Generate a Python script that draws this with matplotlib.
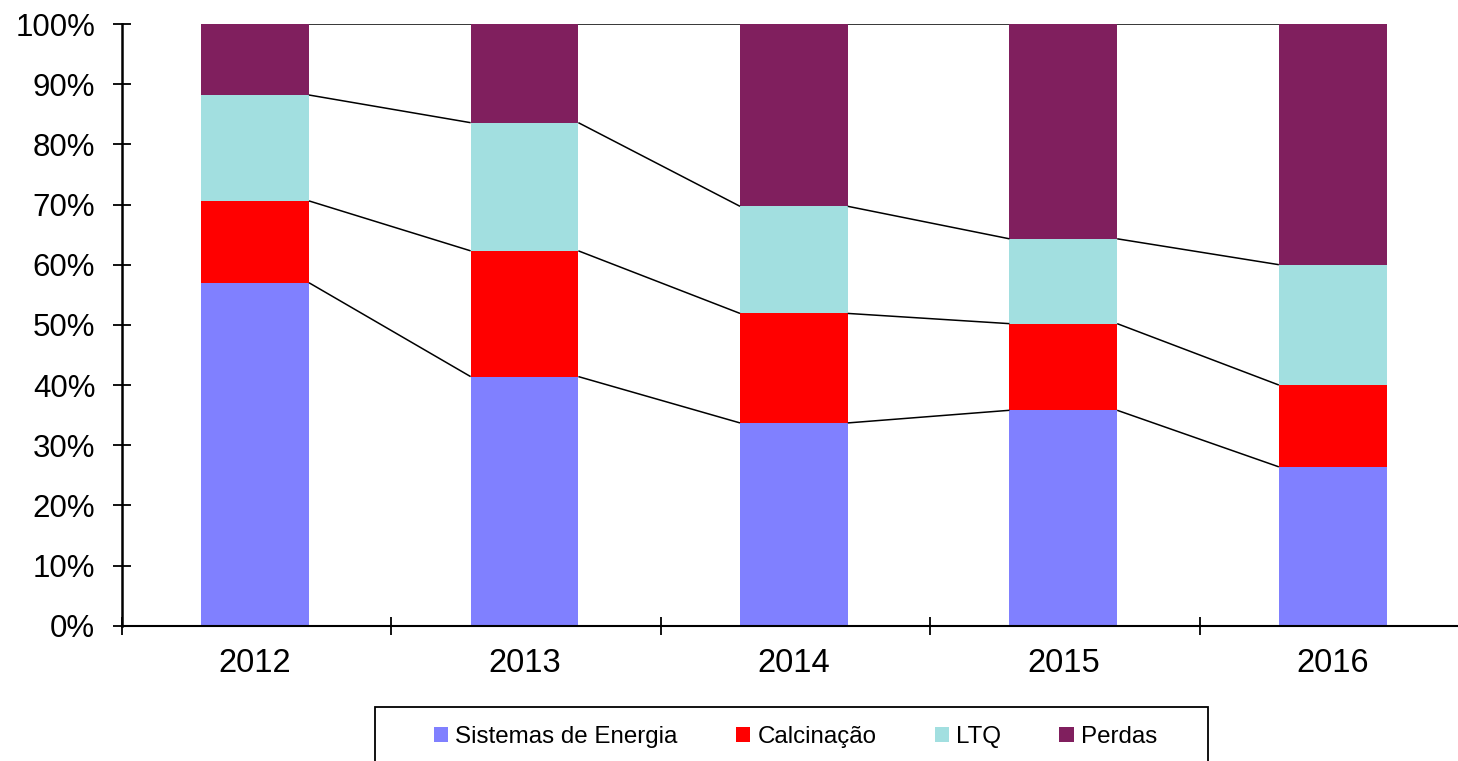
import matplotlib
matplotlib.use("Agg")
import matplotlib.pyplot as plt
from matplotlib.patches import Patch, Rectangle
from matplotlib.ticker import FuncFormatter, FixedLocator
import numpy as np

years = ["2012", "2013", "2014", "2015", "2016"]
series_names = ["Sistemas de Energia", "Calcinação", "LTQ", "Perdas"]
sistemas = [57.0, 41.4, 33.7, 35.8, 26.4]
calcinacao = [13.6, 20.9, 18.2, 14.4, 13.6]
ltq = [17.6, 21.3, 17.8, 14.1, 20.0]
perdas = [11.8, 16.4, 30.3, 35.7, 40.0]
colors = ["#8080FF", "#FF0000", "#A2DFE0", "#801F5E"]

plt.rcParams['font.family'] = ['Liberation Sans', 'DejaVu Sans']

W, H = 1458, 761
fig = plt.figure(figsize=(W / 100, H / 100), dpi=100)
ax = fig.add_axes([122 / W, (H - 625.7) / H, (W - 122) / W, (625.7 - 24) / H])

data = [sistemas, calcinacao, ltq, perdas]
x = np.arange(len(years))
bw = 0.40
bottom = np.zeros(len(years))
for vals, col, name in zip(data, colors, series_names):
    v = np.array(vals, dtype=float)
    ax.bar(x, v, bw, bottom=bottom, color=col, label=name, zorder=2, linewidth=0)
    top = bottom + v
    for i in range(len(years) - 1):
        ax.plot([x[i] + bw / 2, x[i + 1] - bw / 2], [top[i], top[i + 1]],
                color="black", lw=1.1, zorder=3, solid_capstyle='butt')
    bottom = top

ax.yaxis.set_major_locator(FixedLocator(np.arange(0, 101, 10)))
ax.yaxis.set_major_formatter(FuncFormatter(lambda v, p: f"{int(round(v))}%"))
ax.set_xticks(x)
ax.set_xticklabels(years)
ax.set_xticks(np.arange(-0.5, 4.6, 1.0) + 0.006, minor=True)
ax.set_xlim(-0.494, 4.465)
ax.set_ylim(0, 100)

for s in ["top", "right"]:
    ax.spines[s].set_visible(False)
ax.spines["left"].set_linewidth(1.8)
ax.spines["bottom"].set_linewidth(1.5)

ax.tick_params(axis='y', direction='inout', length=12.5, width=1.3, labelsize=22.5, pad=13)
ax.tick_params(axis='x', which='major', length=0, labelsize=23.5, pad=16)
ax.tick_params(axis='x', which='minor', direction='inout', length=13, width=1.3)

handles = [Patch(facecolor=c, edgecolor='none') for c in colors]
leg = fig.legend(handles, series_names, loc='center', bbox_to_anchor=((434 + 1157) / 2 / W, 1 - 737 / H),
                 ncol=4, frameon=False, fontsize=17.4, handlelength=0.6, handleheight=0.6,
                 handletextpad=0.3, columnspacing=2.4, borderpad=0)
fig.patches.append(Rectangle((375 / W, -0.05), (1208 - 375) / W, 0.05 + (H - 707) / H,
                             transform=fig.transFigure, fill=False, edgecolor='black', lw=1.3))

fig.savefig("out.png", dpi=100)
